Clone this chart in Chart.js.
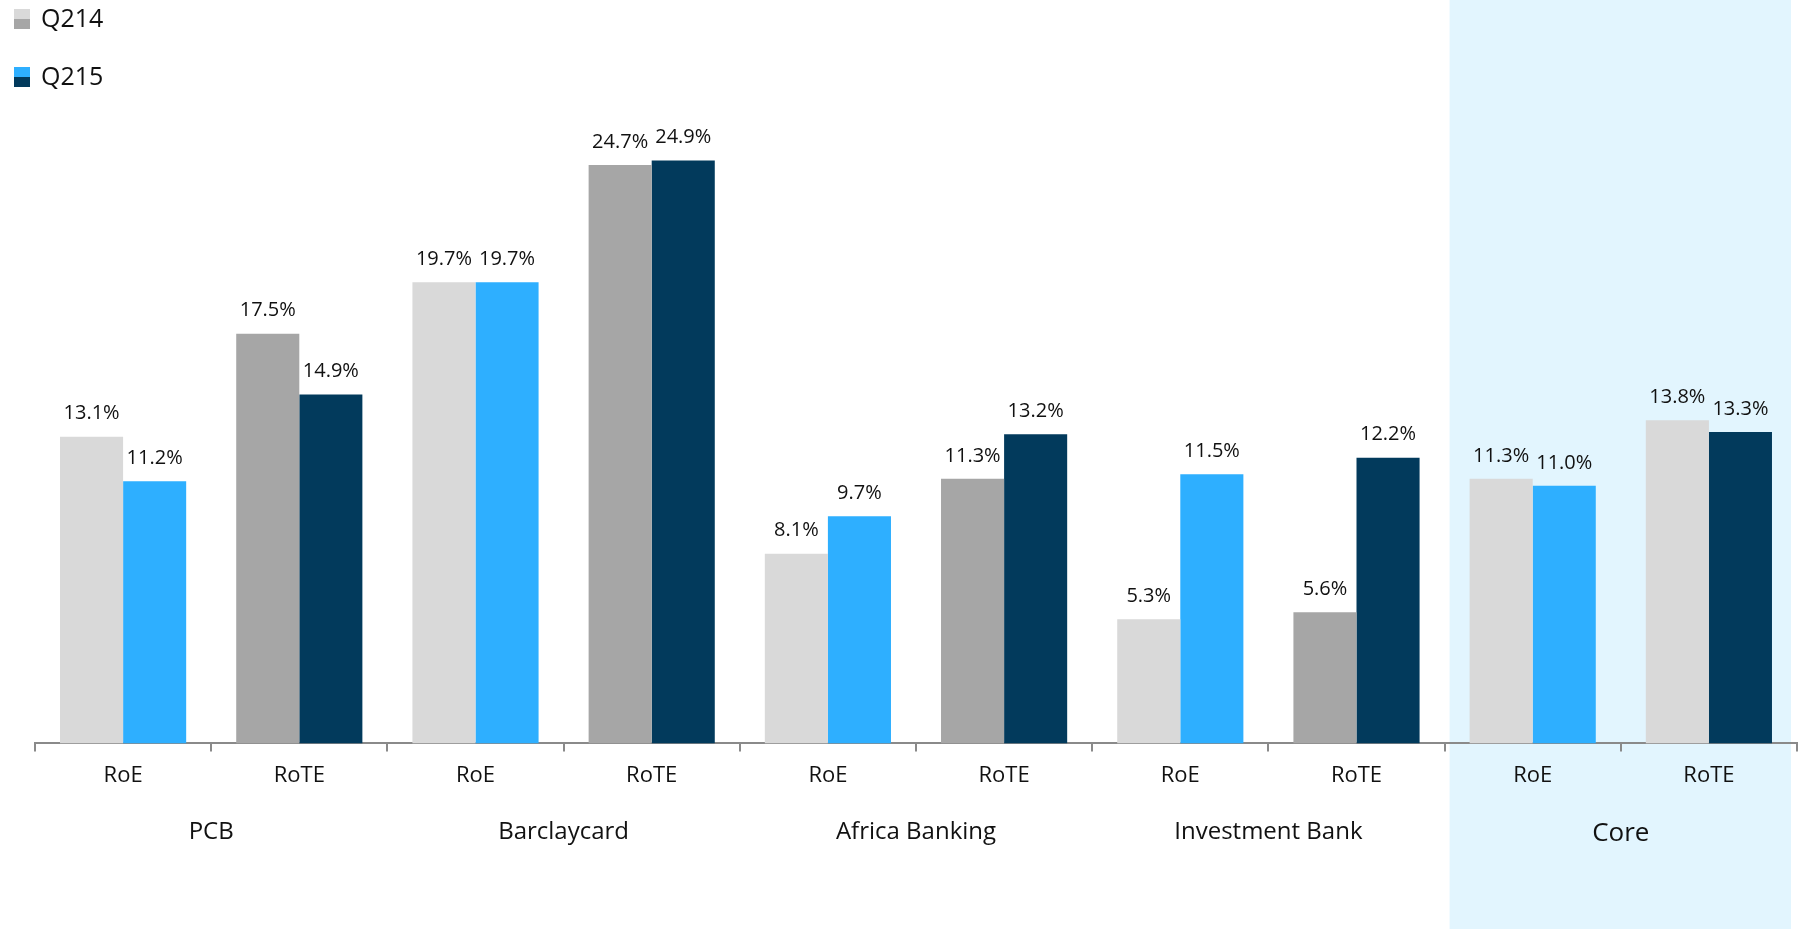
<!DOCTYPE html>
<html>
<head>
<meta charset="utf-8">
<style>
  html, body { margin: 0; padding: 0; background: #fff; }
  #wrap { width: 1804px; height: 929px; position: relative; }
</style>
</head>
<body>
<div id="wrap">
  <canvas id="myChart"></canvas>
</div>

<script src="https://cdn.jsdelivr.net/npm/chart.js"></script>
<script>
  // chart data
  const metrics = ['RoE', 'RoTE', 'RoE', 'RoTE', 'RoE', 'RoTE', 'RoE', 'RoTE', 'RoE', 'RoTE'];
  const groups = ['PCB', 'Barclaycard', 'Africa Banking', 'Investment Bank', 'Core'];
  const seriesNames = ['Q214', 'Q215'];
  const q214 = [13.1, 17.5, 19.7, 24.7, 8.1, 11.3, 5.3, 5.6, 11.3, 13.8];
  const q215 = [11.2, 14.9, 19.7, 24.9, 9.7, 13.2, 11.5, 12.2, 11.0, 13.3];

  // colours per bar
  const lightGrey = '#D9D9D9';
  const midGrey = '#A6A6A6';
  const brightBlue = '#2EAFFF';
  const navy = '#023A5C';
  const q214Colors = [lightGrey, midGrey, lightGrey, midGrey, lightGrey, midGrey, lightGrey, midGrey, lightGrey, lightGrey];
  const q215Colors = [brightBlue, navy, brightBlue, navy, brightBlue, navy, brightBlue, navy, brightBlue, navy];

  const FONT = "'Open Sans', 'Noto Sans', sans-serif";

  // light blue panel behind the Core group
  const coreBackground = {
    id: 'coreBackground',
    beforeDraw(chart) {
      const x = chart.scales.x;
      const half = x.width / metrics.length / 2;
      const left = x.getPixelForValue(8) - half + 5;
      const right = chart.chartArea.right - 6;
      const c = chart.ctx;
      c.save();
      c.fillStyle = '#E2F5FE';
      c.fillRect(left, 0, right - left, chart.height);
      c.restore();
    }
  };

  // value labels above each bar
  const valueLabels = {
    id: 'valueLabels',
    afterDatasetsDraw(chart) {
      const c = chart.ctx;
      c.save();
      c.font = '20px ' + FONT;
      c.fillStyle = '#111';
      c.textAlign = 'center';
      c.textBaseline = 'middle';
      chart.data.datasets.forEach((ds, i) => {
        chart.getDatasetMeta(i).data.forEach((bar, j) => {
          c.fillText(ds.data[j].toFixed(1) + '%', bar.x, bar.y - 23);
        });
      });
      c.restore();
    }
  };

  // two-tone legend in the top left corner
  const twoToneLegend = {
    id: 'twoToneLegend',
    afterDraw(chart) {
      const c = chart.ctx;
      const rows = [
        { top: lightGrey, bottom: midGrey, y: 9 },
        { top: brightBlue, bottom: navy, y: 67 }
      ];
      c.save();
      c.font = '25px ' + FONT;
      c.fillStyle = '#111';
      c.textBaseline = 'middle';
      rows.forEach((r, i) => {
        c.fillStyle = r.top;
        c.fillRect(14, r.y, 16, 10);
        c.fillStyle = r.bottom;
        c.fillRect(14, r.y + 10, 16, 10);
        c.fillStyle = '#111';
        c.fillText(seriesNames[i], 41, r.y + 11);
      });
      c.restore();
    }
  };

  const ctx = document.getElementById('myChart');

  const myChart = new Chart(ctx, {
    type: 'bar',
    data: {
      labels: metrics,
      datasets: [{
        label: seriesNames[0],
        data: q214,
        backgroundColor: q214Colors,
        borderWidth: 0
      }, {
        label: seriesNames[1],
        data: q215,
        backgroundColor: q215Colors,
        borderWidth: 0
      }]
    },
    options: {
      responsive: true,
      maintainAspectRatio: false,
      animation: false,
      categoryPercentage: 0.716,
      barPercentage: 1.0,
      layout: {
        padding: { left: 35, right: 7, top: 41, bottom: 62 }
      },
      plugins: {
        legend: { display: false },
        tooltip: { enabled: false }
      },
      scales: {
        y: {
          display: false,
          min: 0,
          max: 30
        },
        x: {
          weight: 0,
          grid: {
            offset: true,
            drawOnChartArea: false,
            drawTicks: true,
            tickLength: 8,
            color: '#8A8A8A',
            lineWidth: 2
          },
          border: { display: true, color: '#8A8A8A', width: 2 },
          ticks: {
            color: '#111',
            padding: 11,
            font: { family: FONT, size: 22 }
          }
        },
        x2: {
          type: 'category',
          labels: groups,
          position: 'bottom',
          weight: 1,
          grid: { display: false, drawTicks: false },
          border: { display: false },
          ticks: {
            color: '#111',
            padding: 18,
            font: (c) => ({ family: FONT, size: c.index === 4 ? 26 : 24 })
          }
        }
      }
    },
    plugins: [coreBackground, valueLabels, twoToneLegend]
  });
</script>
</body>
</html>
